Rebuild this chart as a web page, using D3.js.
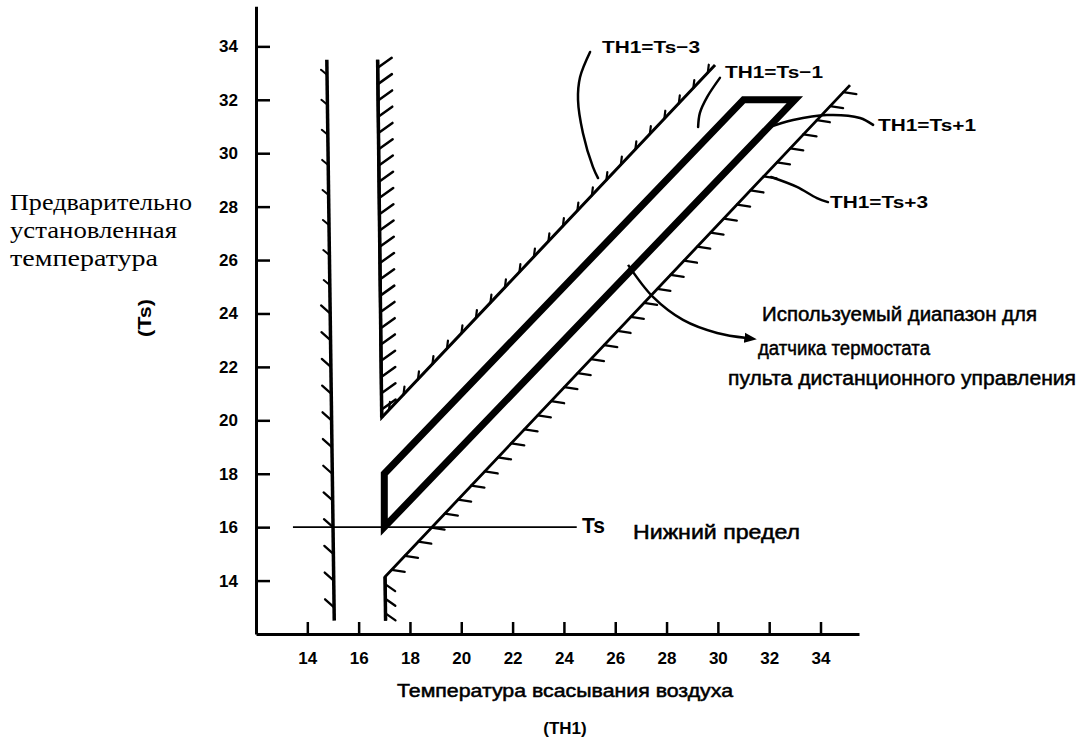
<!DOCTYPE html>
<html><head><meta charset="utf-8">
<script src="https://cdn.jsdelivr.net/npm/d3@7"></script>
<style>body{margin:0;background:#fff}svg{display:block}</style>
</head><body>
<svg id="c" width="1078" height="747"></svg>
<script>
// ---- data ----
const xTicks = [14,16,18,20,22,24,26,28,30,32,34];
const yTicks = [14,16,18,20,22,24,26,28,30,32,34];
// usable range (TH1 = Ts-1 .. TH1 = Ts+1), [TH1, Ts]
const usableBand = [[17,16],[17,18],[31,32],[33,32]];
// Ts lower limit line
const lowerLimitTs = 16;
const lowerLimitSpan = [13.44, 24.5];
// hatched limits [TH1, Ts]
const leftLimit  = [[14.76,33.5],[15.05,12.5]];
const leftLimitUpper = [[14.76,33.5],[14.88,24.5]];
const leftLimitLower = [[14.88,24.5],[15.05,12.5]];
const upperLimitVertical = [[16.74,33.5],[16.9,20.1]];
const upperLimitDiag     = [[16.9,20.1],[29.89,33.3]];   // TH1 = Ts-3
const lowerLimitVertical = [[17.05,12.5],[17.03,14.14]];
const lowerLimitDiag     = [[17.03,14.14],[35.15,32.55]]; // TH1 = Ts+3
// annotation leaders [TH1, Ts]
const leaderTsm3 = [[25.02,33.79],[24.63,32.85],[24.55,31.99],[24.74,30.76],[25.13,29.49],[25.33,29.07]];
const leaderTsm1 = [[30.08,32.82],[29.58,32.10],[29.30,31.51],[29.23,30.98]];
const leaderTsp1 = [[31.91,30.94],[32.93,31.24],[34.25,31.43],[35.54,31.32],[36.05,31.06]];
const leaderTsp3 = [[32.07,29.11],[33.08,28.74],[33.86,28.32],[34.29,28.17]];
const leaderRange = [[26.50,25.82],[27.47,24.62],[28.64,23.76],[29.97,23.27],[31.13,23.08]];

const svg = d3.select("#c");
const x = d3.scaleLinear().domain([12,35.5]).range([256,859]);
const y = d3.scaleLinear().domain([12,35.5]).range([634,6.3]);
const P = d => [x(d[0]), y(d[1])];
const line = d3.line().x(d=>x(d[0])).y(d=>y(d[1]));
const curve = d3.line().x(d=>x(d[0])).y(d=>y(d[1])).curve(d3.curveCatmullRom);

const sans = "'Liberation Sans', Arial, sans-serif";

// axes
const yAxis = d3.axisLeft(y).tickValues(yTicks).tickSizeInner(-14).tickSizeOuter(0).tickPadding(18).tickFormat(d3.format("d"));
const gy = svg.append("g").attr("transform","translate(256,0)").call(yAxis);
const xAxis = d3.axisBottom(x).tickValues(xTicks).tickSizeInner(-12).tickSizeOuter(0).tickPadding(18).tickFormat(d3.format("d"));
const gx = svg.append("g").attr("transform","translate(0,634)").call(xAxis);
[gy,gx].forEach(g=>{
  g.select(".domain").attr("stroke","#000").attr("stroke-width",3);
  g.selectAll(".tick line").attr("stroke","#000").attr("stroke-width",2.5);
  g.selectAll(".tick text").attr("fill","#000").style("font-family",sans)
   .style("font-weight","bold").style("font-size","17px");
});
gx.selectAll(".tick text").attr("dy","0.71em");

// hatch helper
function hatch(seg, spacing, dx, dy, sw){
  const a = P(seg[0]), b = P(seg[1]);
  const L = Math.hypot(b[0]-a[0], b[1]-a[1]);
  const n = Math.max(1, Math.floor(L/spacing));
  const g = svg.append("g").attr("stroke","#000").attr("stroke-width",sw||2.5).attr("stroke-linecap","round");
  d3.range(n).forEach(i=>{
    const t = (i+0.5)/n;
    const px = a[0]+(b[0]-a[0])*t, py = a[1]+(b[1]-a[1])*t;
    g.append("line").attr("x1",px).attr("y1",py).attr("x2",px+dx).attr("y2",py+dy);
  });
}

// Ts lower limit line
svg.append("path").attr("d", line([[lowerLimitSpan[0],lowerLimitTs],[lowerLimitSpan[1],lowerLimitTs]]))
  .attr("stroke","#000").attr("stroke-width",1.6).attr("fill","none");

// limit lines
svg.append("path").attr("d", line(leftLimit)).attr("stroke","#000").attr("stroke-width",3.5).attr("fill","none");
hatch(leftLimitUpper, 30, -6, -5, 2);
hatch(leftLimitLower, 26, -9, -8, 2.3);

svg.append("path").attr("d", line(upperLimitVertical.concat([upperLimitDiag[1]])))
  .attr("stroke","#000").attr("stroke-width",3).attr("fill","none").attr("stroke-linejoin","miter");
svg.append("path").attr("d", line(upperLimitVertical)).attr("stroke","#000").attr("stroke-width",3.5).attr("fill","none");
hatch(upperLimitVertical, 16, 14, -10, 2.5);
hatch(upperLimitDiag, 21, 1, -8, 2.2);

svg.append("path").attr("d", line(lowerLimitVertical.concat([lowerLimitDiag[1]])))
  .attr("stroke","#000").attr("stroke-width",2.8).attr("fill","none");
svg.append("path").attr("d", line(lowerLimitVertical)).attr("stroke","#000").attr("stroke-width",3.5).attr("fill","none");
hatch(lowerLimitVertical, 12, 10, 7, 2.3);
hatch(lowerLimitDiag, 19, 13, 2, 2.3);

// usable band
svg.append("path").attr("d", line(usableBand)+"Z").attr("stroke","#000").attr("stroke-width",7)
  .attr("fill","none").attr("stroke-linejoin","miter");

// leaders
svg.append("defs").append("marker").attr("id","arr").attr("viewBox","0 0 10 10").attr("refX",2).attr("refY",5)
  .attr("markerWidth",5).attr("markerHeight",5).attr("orient","auto").attr("markerUnits","strokeWidth")
  .append("path").attr("d","M0,1 L10,5 L0,9 Z").attr("fill","#000");
[leaderTsm3, leaderTsm1, leaderTsp1, leaderTsp3].forEach(l=>{
  svg.append("path").attr("d", curve(l)).attr("stroke","#000").attr("stroke-width",2.5).attr("fill","none").attr("stroke-linecap","round");
});
svg.append("path").attr("d", curve(leaderRange)).attr("stroke","#000").attr("stroke-width",2.5).attr("fill","none")
  .attr("marker-end","url(#arr)");

// texts
function txt(s, px, py, opt){
  const t = svg.append("text").attr("x",px).attr("y",py).text(s)
    .style("font-family", opt.family||sans).style("font-size", opt.size+"px")
    .style("font-weight", opt.weight||"normal").attr("fill","#000");
  if(opt.anchor) t.attr("text-anchor",opt.anchor);
  if(opt.len) t.attr("textLength",opt.len).attr("lengthAdjust","spacingAndGlyphs");
  if(opt.stroke) t.attr("stroke","#000").attr("stroke-width",opt.stroke);
  return t;
}
txt("TH1=Ts\u22123", 602, 53, {size:17, weight:"bold", len:98});
txt("TH1=Ts\u22121", 725, 78, {size:17, weight:"bold", len:98});
txt("TH1=Ts+1", 878, 131, {size:17, weight:"bold", len:98});
txt("TH1=Ts+3", 830, 208, {size:17, weight:"bold", len:98});

txt("Используемый диапазон для", 762, 321, {size:20, len:275, stroke:0.5});
txt("датчика термостата", 758, 355, {size:20, len:172, stroke:0.5});
txt("пульта дистанционного управления", 728, 385, {size:20, len:348, stroke:0.5});

txt("Ts", 582, 533, {size:22, weight:"bold", len:23});
txt("Нижний предел", 633, 539, {size:20, len:167, stroke:0.5});

const serif = "'Liberation Serif', 'Times New Roman', serif";
txt("Предварительно", 10, 210, {size:24, family:serif, len:182});
txt("установленная", 10, 238, {size:24, family:serif, len:167});
txt("температура", 10, 266, {size:24, family:serif, len:148});
svg.append("text").attr("transform","translate(151,318) rotate(-90)").attr("text-anchor","middle")
  .style("font-family",sans).style("font-size","18px").style("font-weight","bold").text("(Ts)")
  .attr("textLength",38).attr("lengthAdjust","spacingAndGlyphs");

txt("Температура всасывания воздуха", 397, 697, {size:18, len:336, stroke:0.5});
txt("(TH1)", 565, 734, {size:17, weight:"bold", anchor:"middle"});
</script>
</body></html>
